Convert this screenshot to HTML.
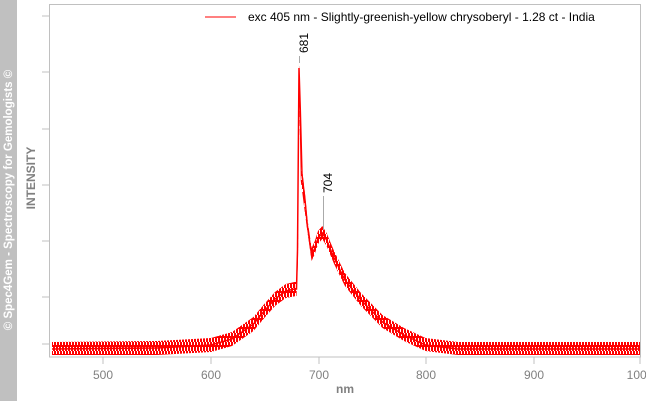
<!DOCTYPE html><html><head><style>body{margin:0;background:#fff}svg{display:block;font-family:"Liberation Sans",sans-serif}</style></head><body>
<svg width="646" height="401" xmlns="http://www.w3.org/2000/svg">
<defs><pattern id="p" width="3" height="9" patternUnits="userSpaceOnUse"><rect x="0" y="0" width="1" height="9" fill="#f00"/><rect x="1" y="0" width="1" height="5" fill="#f00"/><rect x="2" y="3" width="1" height="6" fill="#f00"/></pattern></defs>
<rect x="0" y="0" width="17" height="401" fill="#c0c0c0"/>
<text transform="translate(12,200) rotate(-90)" text-anchor="middle" font-size="11.5" font-weight="bold" fill="#fff">© Spec4Gem - Spectroscopy for Gemologists ©</text>
<text transform="translate(35,178) rotate(-90)" text-anchor="middle" font-size="12" font-weight="bold" fill="#808080">INTENSITY</text>
<rect x="49.5" y="4.5" width="591" height="352.5" fill="none" stroke="#c0c0c0"/>
<g stroke="#c0c0c0"><path d="M42 16H49M42 72H49M42 129H49M42 185H49M42 241H49M42 297H49M42 344H49"/>
<path d="M103 357V364M211 357V364M319 357V364M426 357V364M534 357V364M640 357V364"/></g>
<g font-size="12" fill="#808080" text-anchor="middle"><text x="103" y="379">500</text><text x="211" y="379">600</text><text x="319" y="379">700</text><text x="426" y="379">800</text><text x="534" y="379">900</text><text x="640" y="379">1000</text>
<text x="345" y="393" font-weight="bold">nm</text></g>
<path fill="url(#p)" d="M52 342 L157 341 L211 338 L232 332 L253.5 317 L264.3 304 L275 292 L285.8 284 L294.4 282 L296.5 282 L298 240 L299 62 L300.3 100 L302 168 L305 194 L307.3 218 L311.6 248 L314.8 241 L318 231 L322.3 226 L326.6 233 L334.1 251 L344.9 273 L361 293 L382.5 315 L404 328 L425.5 338 L457.8 342 L640 342 L640 355 L457.8 355 L425.5 351 L404 341 L382.5 328 L361 306 L344.9 286 L334.1 264 L326.6 246 L322.3 239 L318 244 L314.8 254 L311.6 261 L307.3 231 L304 206 L300.8 181 L299.6 120 L299 80 L298 260 L296.5 296 L285.8 298 L275 306 L264.3 318 L253.5 331 L232 346 L211 352 L157 355 L52 355 Z"/>
<path fill="none" stroke="#f00" stroke-width="1.5" d="M52 349 L157 348 L211 345 L232 339 L253.5 324 L264.3 311 L275 299 L285.8 291 L294.4 289 L296.5 289 L297.5 250 L299 68 L300.3 110 L302 175 L305 200 L307.3 225 L311.6 255 L314.8 248 L318 238 L322.3 233 L326.6 240 L334.1 258 L344.9 280 L361 300 L382.5 322 L404 335 L425.5 345 L457.8 349 L640 349"/>
<line x1="205" y1="17" x2="236" y2="17" stroke="#f00"/>
<text x="248" y="21" font-size="12" fill="#000">exc 405 nm - Slightly-greenish-yellow chrysoberyl - 1.28 ct - India</text>
<line x1="299.5" y1="56" x2="299.5" y2="63" stroke="#aaa"/>
<text transform="translate(308,53) rotate(-90)" font-size="12">681</text>
<line x1="323.5" y1="196" x2="323.5" y2="230" stroke="#aaa"/>
<text transform="translate(332,193) rotate(-90)" font-size="12">704</text>
</svg></body></html>
